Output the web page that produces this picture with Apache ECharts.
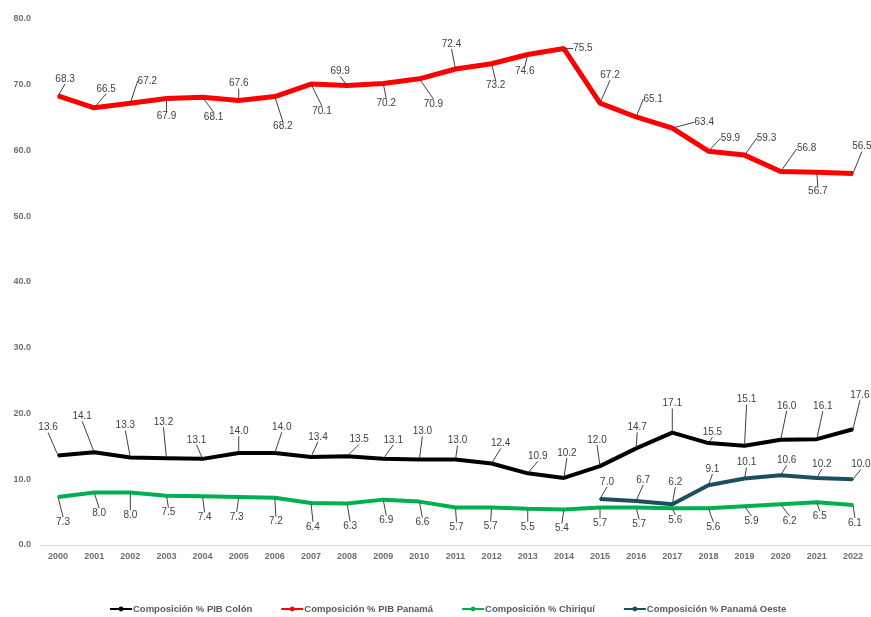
<!DOCTYPE html>
<html><head><meta charset="utf-8">
<script src="https://cdn.jsdelivr.net/npm/echarts@6/dist/echarts.min.js"></script>
<style>html,body{margin:0;padding:0;background:#fff}#c{width:871px;height:617px}</style>
</head><body><div id="c"></div>
<script>
const years = ['2000','2001','2002','2003','2004','2005','2006','2007','2008','2009','2010','2011','2012','2013','2014','2015','2016','2017','2018','2019','2020','2021','2022'];
const colon = [13.6,14.1,13.3,13.2,13.1,14.0,14.0,13.4,13.5,13.1,13.0,13.0,12.4,10.9,10.2,12.0,14.7,17.1,15.5,15.1,16.0,16.1,17.6];
const panama = [68.3,66.5,67.2,67.9,68.1,67.6,68.2,70.1,69.9,70.2,70.9,72.4,73.2,74.6,75.5,67.2,65.1,63.4,59.9,59.3,56.8,56.7,56.5];
const chiriqui = [7.3,8.0,8.0,7.5,7.4,7.3,7.2,6.4,6.3,6.9,6.6,5.7,5.7,5.5,5.4,5.7,5.7,5.6,5.6,5.9,6.2,6.5,6.1];
const panamaOeste = [null,null,null,null,null,null,null,null,null,null,null,null,null,null,null,7.0,6.7,6.2,9.1,10.1,10.6,10.2,10.0];
const yTicks = [0,10,20,30,40,50,60,70,80];
const seriesNames = ['Composición % PIB Colón','Composición % PIB Panamá','Composición % Chiriquí','Composición % Panamá Oeste'];

// label offsets (dx, dy in px) from each point
const offColon = [[-10,-28],[-12,-36],[-5,-32],[-3,-36],[-6,-19],[0,-22],[7,-26],[7,-20],[12,-17],[10,-19],[3,-28],[2,-19],[9,-20],[10,-17],[3,-25],[-3,-26],[1,-21],[0,-29],[4,-11],[2,-46],[6,-34],[6,-33],[7,-34]];
const offPanama = [[7,-17],[12,-19],[17,-22],[0,18],[11,20],[0,-17],[8,30],[11,27],[-7,-14],[3,20],[14,25],[-4,-25],[4,22],[-3,17],[19,0],[10,-28],[17,-18],[32,-6],[22,-13],[22,-17],[26,-23],[1,19],[9,-27]];
const offChiriqui = [[5,25],[5,21],[0,23],[2,17],[2,21],[-2,20],[1,24],[2,24],[3,23],[3,21],[3,21],[1,20],[-1,19],[0,18],[-2,19],[0,16],[3,17],[3,12],[5,19],[7,15],[9,17],[3,14],[2,18]];
const offOeste = [null,null,null,null,null,null,null,null,null,null,null,null,null,null,null,[7,-17],[7,-21],[3,-22],[4,-16],[2,-16],[6,-15],[5,-14],[8,-15]];
const offsets = [offColon, offPanama, offChiriqui, offOeste];

const colors = ['#000000','#ff0000','#00b050','#1b4f5e'];
const widths = [4,5,4,4];
const dataSets = [colon, panama, chiriqui, panamaOeste];

const chart = echarts.init(document.getElementById('c'));
const font = '"Liberation Sans", Arial, sans-serif';

chart.setOption({
  animation: false,
  backgroundColor: '#ffffff',
  textStyle: { fontFamily: font },
  grid: { left: 40, right: 0, top: 19, bottom: 72 },
  legend: {
    bottom: -2,
    left: 104,
    itemWidth: 22,
    itemHeight: 6,
    itemGap: 28,
    textStyle: { fontSize: 9.5, fontWeight: 'bold', color: '#595959', fontFamily: font, padding: [0, 0, 0, -4] },
    data: seriesNames
  },
  xAxis: {
    type: 'category',
    data: years,
    boundaryGap: true,
    axisLine: { lineStyle: { color: '#d9d9d9', width: 1 } },
    axisTick: { show: false },
    axisLabel: { fontSize: 9, fontWeight: 'bold', color: '#6e6e6e', margin: 7, interval: 0 }
  },
  yAxis: {
    type: 'value',
    min: yTicks[0],
    max: yTicks[yTicks.length - 1],
    interval: 10,
    axisLine: { show: false },
    axisTick: { show: false },
    splitLine: { show: false },
    axisLabel: { fontSize: 9, fontWeight: 'bold', color: '#6e6e6e', margin: 9, formatter: v => v.toFixed(1) }
  },
  series: dataSets.map((d, si) => ({
    name: seriesNames[si],
    type: 'line',
    data: d,
    connectNulls: false,
    symbol: 'circle',
    symbolSize: 2,
    showSymbol: true,
    itemStyle: { color: colors[si] },
    lineStyle: { color: colors[si], width: widths[si] },
    z: 2 + si,
    label: {
      show: true,
      position: 'inside',
      fontSize: 10,
      color: '#404040',
      fontFamily: font,
      formatter: p => (p.value == null ? '' : Number(p.value).toFixed(1))
    },
    labelLine: { show: true, lineStyle: { color: '#404040', width: 1 } },
    labelLayout: function (params) {
      const o = offsets[params.seriesIndex][params.dataIndex];
      if (!o) return {};
      const r = params.rect;
      return {
        x: r.x + r.width / 2 + o[0],
        y: r.y + r.height / 2 + o[1],
        align: 'center',
        verticalAlign: 'middle',
        hideOverlap: false
      };
    }
  }))
});
</script>
</body></html>
